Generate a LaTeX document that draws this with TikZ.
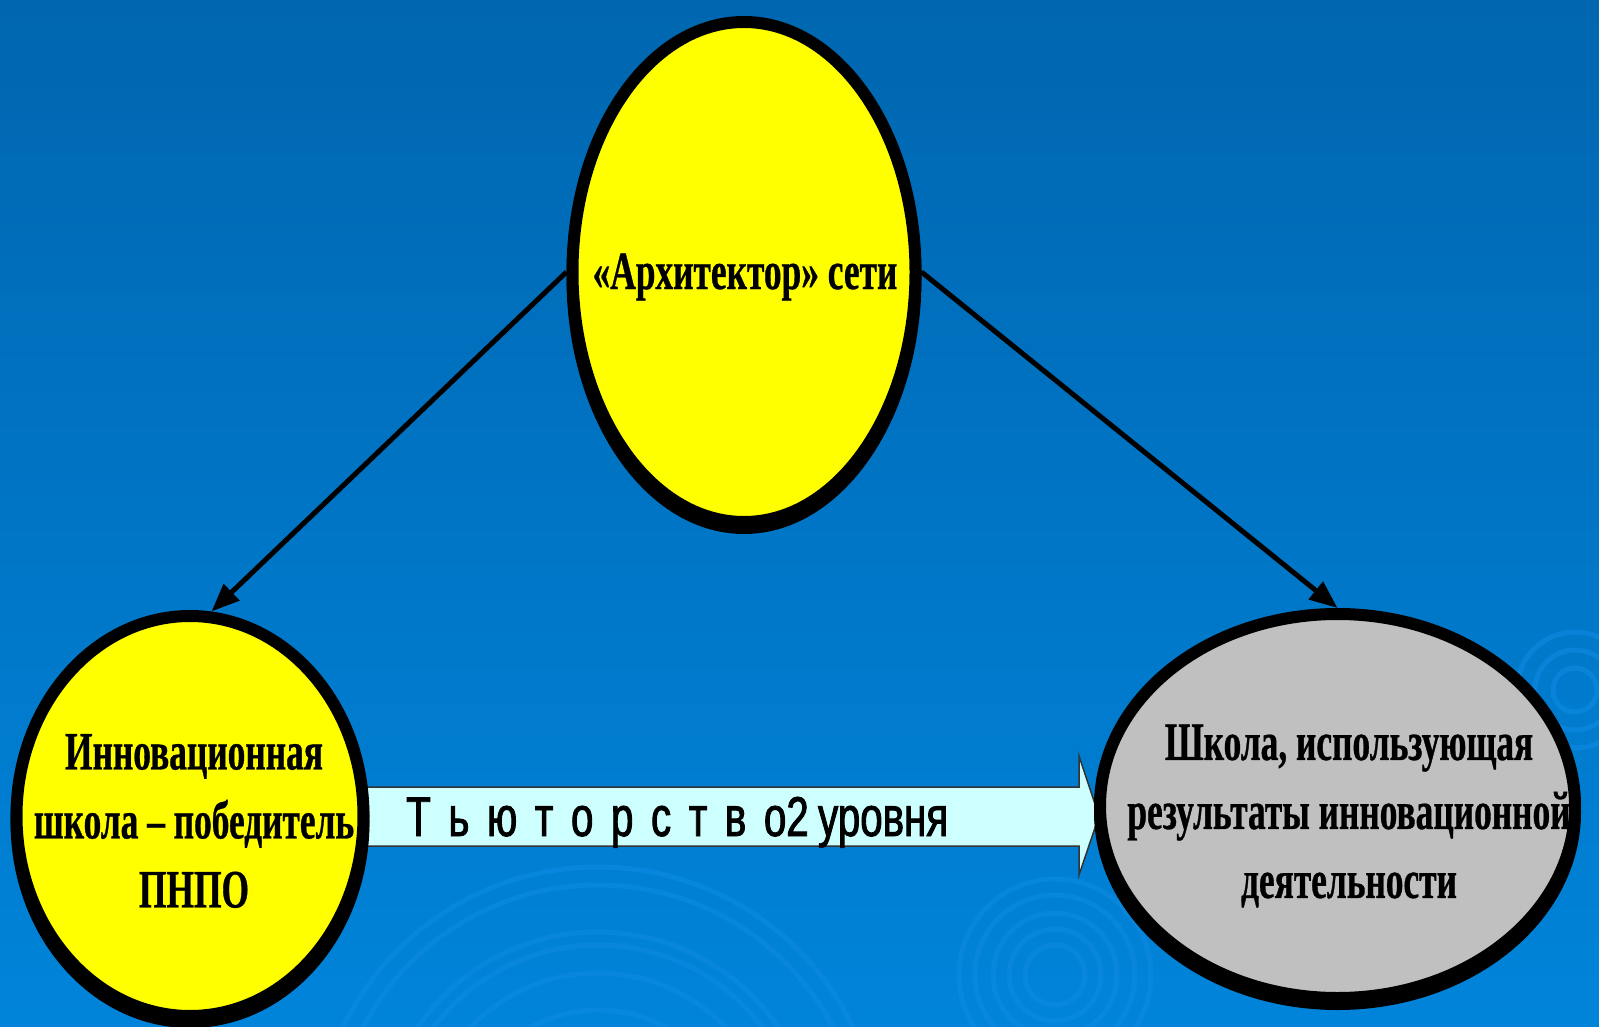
\documentclass[tikz,border=0pt]{standalone}
\usepackage{fontspec}
\newfontfamily\serifcond[FakeStretch=0.655,FakeBold=0.6]{Liberation Serif}
\newfontfamily\sanscond[FakeStretch=0.72,FakeBold=1.6]{Liberation Sans}
\usetikzlibrary{arrows.meta,shapes.geometric}
\definecolor{bgtop}{RGB}{0,102,176}
\definecolor{bgbot}{RGB}{0,132,218}
\definecolor{ripple}{RGB}{14,138,226}
\definecolor{arrowfill}{RGB}{206,255,255}
\definecolor{grayfill}{RGB}{192,192,192}
\definecolor{yellowfill}{RGB}{255,255,0}
\begin{document}
\begin{tikzpicture}[x=1pt,y=-1pt,
  oval/.style={ellipse, draw=black, line width=12pt, inner sep=0pt},
  conn/.style={line width=5pt, draw=black, -{Triangle[length=28pt,width=22pt]}},
  ovaltext/.style={font=\serifcond\bfseries\fontsize{54}{69}\selectfont, align=center, text=black, inner sep=0pt},
  arrowtext/.style={font=\sanscond\fontsize{56}{60}\selectfont, text=black, inner sep=0pt},
  ripplering/.style={draw=ripple, line width=5pt, opacity=0.6},
  bigarrow/.style={fill=arrowfill, draw=black!80, line width=1.5pt}
]
\useasboundingbox (0,0) rectangle (1599,1027);
\shade[top color=bgtop, bottom color=bgbot] (0,0) rectangle (1599,1027);

% ripples
\foreach \r in {140,177,205,218,265,283}{
  \draw[ripplering] (598,1150) circle [radius=\r pt];
}
\foreach \r in {30,46,62,80,96}{
  \draw[ripplering] (1055,975) circle [radius=\r pt];
}
\foreach \r in {22,40,58}{
  \draw[ripplering] (1575,690) circle [radius=\r pt];
}

% big arrow (behind ellipses)
\path[bigarrow] (350,787) -- (1079,787) -- (1079,756) -- (1099,816)
  -- (1079,875) -- (1079,846) -- (350,846) -- cycle;
\node[arrowtext, anchor=base west] (tut) at (406,836)
  {\makebox[542pt][l]{Т\hfill ь\hfill ю\hfill т\hfill о\hfill р\hfill с\hfill т\hfill в\hfill о2\,уровня}};

% shadows
\fill[black] (744,278) ellipse [x radius=177.5pt, y radius=256pt];
\fill[black] (190,822) ellipse [x radius=179.5pt, y radius=206pt];
\fill[black] (1337.5,812) ellipse [x radius=243.5pt, y radius=198pt];

% ellipses
\node[oval, fill=yellowfill, minimum width=343pt, minimum height=500pt] (T) at (744,272) {};
\node[oval, fill=yellowfill, minimum width=347pt, minimum height=400pt] (L) at (190,816) {};
\node[oval, fill=grayfill, minimum width=475pt, minimum height=384pt] (R) at (1337.5,806) {};

% texts
\node[ovaltext] (Tt) at (745,277) {«Архитектор» сети};
\node[ovaltext] (Lt) at (194,821) {Инновационная\\школа – победитель\\ПНПО};
\node[ovaltext] (Rt) at (1349,816) {Школа, использующая\\результаты инновационной\\деятельности};

% connectors
\draw[conn] (T.west) -- (L.84);
\draw[conn] (T.east) -- (R.north);
\end{tikzpicture}
\end{document}
